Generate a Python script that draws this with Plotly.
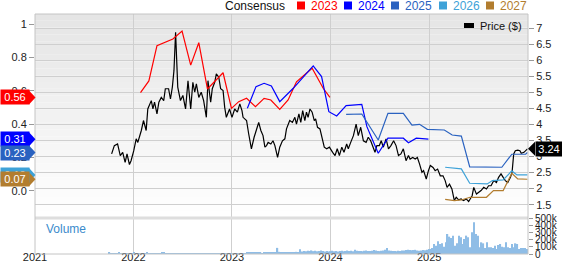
import plotly.graph_objects as go
import pandas as pd

# ---------------- data ----------------
price_dates = ["2021-10-12","2021-10-22","2021-11-03","2021-11-13","2021-11-22","2021-12-01","2021-12-08","2021-12-17","2021-12-23",
 "2022-01-02","2022-01-11","2022-01-17","2022-01-30","2022-02-07","2022-02-17","2022-02-23","2022-03-08","2022-03-14","2022-03-20","2022-03-29",
 "2022-04-05","2022-04-14","2022-04-23","2022-04-29","2022-05-11","2022-05-18","2022-05-25","2022-05-31","2022-06-06","2022-06-14","2022-06-24",
 "2022-07-03","2022-07-13","2022-07-22","2022-08-01","2022-08-09","2022-08-16","2022-08-22","2022-08-31","2022-09-09","2022-09-18","2022-09-28",
 "2022-10-04","2022-10-14","2022-10-20","2022-10-29","2022-11-04","2022-11-13","2022-11-20","2022-11-29","2022-12-05","2022-12-11","2022-12-23",
 "2023-01-01","2023-01-11","2023-01-21","2023-01-30","2023-02-07","2023-02-11","2023-02-24","2023-03-04","2023-03-14","2023-03-24","2023-04-02",
 "2023-04-10","2023-04-18","2023-04-26","2023-05-03","2023-05-09","2023-05-15","2023-05-25","2023-06-02","2023-06-09","2023-06-19","2023-06-27",
 "2023-07-07","2023-07-16","2023-07-22","2023-08-03","2023-08-13","2023-08-22","2023-08-28","2023-09-06","2023-09-13","2023-09-20","2023-09-28",
 "2023-10-04","2023-10-10","2023-10-17","2023-10-25","2023-11-02","2023-11-07","2023-11-14","2023-11-23","2023-12-01","2023-12-09","2023-12-18",
 "2023-12-28","2024-01-09","2024-01-18","2024-01-26","2024-02-03","2024-02-12","2024-02-20","2024-03-01","2024-03-07","2024-03-16","2024-03-26",
 "2024-04-05","2024-04-13","2024-04-22","2024-05-02","2024-05-12","2024-05-20","2024-05-29","2024-06-08","2024-06-14","2024-06-21","2024-06-30",
 "2024-07-07","2024-07-15","2024-07-25","2024-08-03","2024-08-12","2024-08-22","2024-08-31","2024-09-09","2024-09-18","2024-09-27","2024-10-07",
 "2024-10-16","2024-10-22","2024-11-01","2024-11-10","2024-11-18","2024-11-26","2024-12-05","2024-12-11","2024-12-21","2024-12-29",
 "2025-01-05","2025-01-15","2025-01-23","2025-02-01","2025-02-11","2025-02-21","2025-03-01","2025-03-08","2025-03-17","2025-03-26","2025-04-04",
 "2025-04-11","2025-04-20","2025-04-29","2025-05-08","2025-05-18","2025-05-27","2025-06-09","2025-06-15","2025-06-25","2025-07-03","2025-07-12",
 "2025-07-22","2025-08-01","2025-08-09","2025-08-18","2025-08-28","2025-09-07","2025-09-15","2025-09-24","2025-10-02","2025-10-10","2025-10-19",
 "2025-10-29","2025-11-04","2025-11-10","2025-11-16","2025-11-25","2025-12-03","2025-12-08","2025-12-18","2025-12-24","2025-12-31"]
price_values = [3.08,3.34,3.39,3.03,3.13,2.82,3.08,2.75,2.87,
 3.18,3.55,3.44,3.81,4.12,3.81,4.48,4.74,4.48,4.69,4.33,
 4.69,4.84,4.74,5.11,5.11,4.79,5.16,5.68,6.87,5.16,4.74,
 4.90,4.48,5.36,4.48,5.31,5.00,5.26,4.84,5.00,4.74,4.22,
 5.36,4.69,5.11,5.31,5.57,5.47,5.11,5.05,4.53,4.22,4.48,
 4.22,4.48,4.38,4.64,4.43,4.22,4.12,3.70,3.24,3.60,3.86,
 4.06,3.81,3.65,3.29,3.34,3.44,3.39,3.49,3.34,2.97,3.29,
 3.49,3.55,3.86,4.12,4.06,4.22,4.01,4.33,4.06,4.43,4.12,
 4.38,4.22,4.48,4.38,4.12,4.17,3.91,3.86,3.60,3.29,3.24,
 3.29,3.13,3.03,3.24,3.03,3.29,3.13,3.39,3.24,3.44,3.65,
 4.01,3.65,3.91,3.49,3.44,3.60,3.49,3.24,3.13,3.34,3.34,
 3.49,3.29,3.55,3.24,3.34,3.49,3.34,3.03,3.08,3.24,2.87,
 3.03,2.92,2.97,2.92,2.97,2.77,2.51,2.56,2.30,2.56,
 2.72,2.66,2.56,2.61,2.40,2.40,2.25,2.04,2.14,1.99,1.63,
 1.73,1.65,1.68,1.63,1.68,1.60,1.78,2.04,1.83,1.88,1.94,
 2.04,1.99,2.09,2.09,2.25,2.19,2.35,2.46,2.35,2.25,2.19,
 2.35,2.51,3.08,3.18,3.20,3.18,3.10,3.13,3.18,3.24]

eps_2023_dates = ["2022-01-27","2022-02-27","2022-03-29","2022-05-27","2022-06-30","2022-08-01","2022-08-31","2022-10-02","2022-11-29",
 "2022-12-30","2023-01-26","2023-02-24","2023-03-29","2023-04-30","2023-05-25","2023-06-27","2023-07-28","2023-08-28","2023-10-25","2023-12-05","2023-12-30"]
eps_2023_values = [0.589,0.659,0.870,0.910,0.958,0.754,0.888,0.611,0.708,0.495,0.535,0.555,0.505,0.555,0.545,0.489,0.545,0.654,0.735,0.615,0.56]

eps_2024_dates = ["2023-02-27","2023-03-31","2023-04-30","2023-05-27","2023-06-27","2023-08-16","2023-10-29","2023-11-29","2023-12-26",
 "2024-01-24","2024-02-28","2024-04-26","2024-05-15","2024-06-26","2024-08-01","2024-09-27","2024-10-16","2024-11-14","2024-12-29"]
eps_2024_values = [0.495,0.625,0.645,0.629,0.535,0.615,0.749,0.685,0.475,0.449,0.511,0.519,0.385,0.226,0.316,0.316,0.289,0.316,0.31]

eps_2025_dates = ["2024-02-28","2024-04-26","2024-06-26","2024-08-01","2024-09-27","2024-10-29","2024-11-26","2024-12-25",
 "2025-02-26","2025-03-27","2025-04-30","2025-05-31","2025-09-27","2025-11-03","2025-12-24","2025-12-31"]
eps_2025_values = [0.459,0.461,0.305,0.465,0.465,0.395,0.399,0.369,0.365,0.335,0.329,0.144,0.142,0.220,0.220,0.23]

eps_2026_dates = ["2025-03-01","2025-04-30","2025-05-31","2025-08-04","2025-08-23","2025-10-02","2025-11-03","2025-11-22","2025-12-31"]
eps_2026_values = [0.142,0.132,0.046,0.042,0.062,0.066,0.120,0.096,0.096]

eps_2027_dates = ["2025-03-01","2025-04-04","2025-04-30","2025-06-01","2025-08-01","2025-08-27","2025-10-02","2025-11-03","2025-11-25","2025-12-31"]
eps_2027_values = [-0.050,-0.058,-0.054,-0.038,-0.038,0.002,0.002,0.106,0.072,0.07]

# weekly volume, first block starts 2021-10-04
vol_early_start = "2021-10-04"
vol_early = [14000,9000,12000,8000,11000,15000,10000,9000,13000,8000,12000,10000,9000,14000,11000,8000,10000,12000,9000,13000,
 16000,11000,9000,10000,8000,12000,11000,9000,15000,18000,10000,9000,12000,8000,11000,10000,9000,12000,8000,10000,
 11000,7000,9000,10000,8000,9000,12000,7000,8000,9000,6000,8000,5000,6000,4000,5000,4000,3000,5000,4000,3000,4000,3000,2000,3000]
# weekly volume, second block starts 2023-01-02
vol_late_start = "2023-01-02"
vol_late = [2000,2000,3000,2000,2000,3000,2000,3000,
 15000,18000,14000,16000,15000, 14000,17000,15000,13000, 16000,14000,18000,15000,17000,
 20000,16000,85000,30000, 22000,25000,20000,24000,28000, 22000,26000,24000,30000,
 28000,65000,35000,40000, 38000,45000,42000,50000,40000, 45000,38000,42000,48000, 40000,36000,42000,35000,
 40000,45000,38000,42000, 36000,40000,45000,38000, 42000,48000,40000,45000,38000, 60000,45000,42000,40000,
 38000,45000,50000,42000,40000, 45000,55000,48000,42000, 40000,45000,50000,60000,85000, 50000,45000,40000,42000,
 38000,45000,40000,48000, 50000,55000,60000,55000,52000, 55000,58000,50000,45000, 48000,55000,52000,60000,70000,
 70000,83000,139000,116000,176000,139000,148000,102000,162000,278000,241000,222000,255000,116000,148000,255000,
 232000,139000,208000,255000,232000,93000,301000,440000,278000,255000,93000,162000,148000,83000,162000,93000,
 93000,83000,116000,70000,125000,139000,102000,93000,162000,93000,83000,139000,93000,148000,139000,70000,
 83000,83000,83000,70000]

year_ticks = ["2021-01-01","2022-01-01","2023-01-01","2024-01-01","2025-01-01"]
year_labels = ["2021","2022","2023","2024","2025"]
price_ticks = [1.5,2,2.5,3,3.5,4,4.5,5,5.5,6,6.5,7]
eps_ticks = [0,0.2,0.4,0.6,0.8,1]
vol_ticks = [0,100000,200000,300000,400000,500000]
vol_labels = ["0","100k","200k","300k","400k","500k"]

series = [("2023", eps_2023_dates, eps_2023_values, "#ff0000"),
          ("2024", eps_2024_dates, eps_2024_values, "#0000ff"),
          ("2025", eps_2025_dates, eps_2025_values, "#2a62c0"),
          ("2026", eps_2026_dates, eps_2026_values, "#3ea2d8"),
          ("2027", eps_2027_dates, eps_2027_values, "#b27d2f")]

# ---------------- figure ----------------
W, H = 562, 264
ML, MR, MT, MB = 35, 34, 14, 10
PW, PH = W - ML - MR, H - MT - MB
def px_x(px):
    return (px - ML) / PW
def px_y(py):
    return (H - MB - py) / PH

FONT = "Liberation Sans, Arial, sans-serif"
fig = go.Figure()

vol_dates = list(pd.date_range(vol_early_start, periods=len(vol_early), freq="7D")) + \
            list(pd.date_range(vol_late_start, periods=len(vol_late), freq="7D"))
fig.add_trace(go.Bar(x=vol_dates, y=vol_early + vol_late, xaxis="x", yaxis="y3",
                     marker=dict(color="#8fbde6", line=dict(width=0)), showlegend=False))

fig.add_trace(go.Scatter(x=price_dates, y=price_values, xaxis="x2", yaxis="y", mode="lines",
                         line=dict(color="#000000", width=1.2), showlegend=False))
for name, d, v, c in series:
    fig.add_trace(go.Scatter(x=d, y=v, xaxis="x2", yaxis="y2", mode="lines",
                             line=dict(color=c, width=1.2), showlegend=False))

xr = ["2021-01-01", "2026-01-02"]
grid = "#cfcfcf"
tickfont = dict(family=FONT, size=11, color="#222")
fig.update_layout(
    width=W, height=H, margin=dict(l=ML, r=MR, t=MT, b=MB),
    paper_bgcolor="white", plot_bgcolor="rgba(0,0,0,0)",
    bargap=0.35, showlegend=False,
    xaxis=dict(domain=[0, 1], anchor="y3", type="date", range=xr, tickvals=year_ticks, ticktext=year_labels,
               showgrid=True, gridcolor=grid, gridwidth=1, ticks="", tickfont=tickfont, zeroline=False,
               showline=False, automargin=False, ticklabelstandoff=-5),
    xaxis2=dict(domain=[0, 1], anchor="y", type="date", matches="x", range=xr, tickvals=year_ticks,
                showticklabels=False, showgrid=True, gridcolor=grid, gridwidth=1, ticks="", zeroline=False,
                automargin=False),
    yaxis=dict(domain=[0.15, 1], anchor="x2", side="right", range=[1.086, 7.436], tickvals=price_ticks,
               ticktext=[("%g" % t) for t in price_ticks], showgrid=True, gridcolor=grid, gridwidth=1,
               ticks="outside", ticklen=5, tickcolor="#999", tickfont=tickfont, zeroline=False, automargin=False),
    yaxis2=dict(overlaying="y", anchor="x2", side="left", range=[-0.162, 1.06], tickvals=eps_ticks,
                ticktext=["0.0", "0.2", "0.4", "0.6", "0.8", "1"], showgrid=False, ticks="outside", ticklen=5,
                tickcolor="#999", tickfont=tickfont, zeroline=False, automargin=False),
    yaxis3=dict(domain=[0, 0.15], anchor="x", side="right", range=[0, 500000], tickvals=vol_ticks,
                ticktext=vol_labels, showgrid=False, ticks="outside", ticklen=4, tickcolor="#999",
                tickfont=dict(family=FONT, size=10, color="#222"), zeroline=False, automargin=False),
)

shapes = []
# background gradient in price panel
N = 30
y0p, y1p = 0.15, 1.0
for i in range(N):
    t = i / (N - 1)
    g = int(round(229 + (255 - 229) * t))
    shapes.append(dict(type="rect", xref="paper", yref="paper", x0=0, x1=1,
                       y0=y1p - (i + 1) * (y1p - y0p) / N, y1=y1p - i * (y1p - y0p) / N,
                       fillcolor="rgb(%d,%d,%d)" % (g, g, g), line=dict(width=0), layer="below"))
# separator and border
shapes.append(dict(type="line", xref="paper", yref="paper", x0=0, x1=1, y0=0.15, y1=0.15,
                   line=dict(color="#dedede", width=3), layer="above"))
shapes.append(dict(type="rect", xref="paper", yref="paper", x0=0, x1=1, y0=0, y1=1,
                   line=dict(color="#c4c4c4", width=1), layer="above"))

annotations = []
# top legend
annotations.append(dict(text="Consensus", xref="paper", yref="paper", x=px_x(223), y=px_y(5.5),
                        xanchor="left", yanchor="middle", showarrow=False,
                        font=dict(family=FONT, size=12, color="#111")))
leg_sq = [297, 344, 391, 439, 486]
for (name, d, v, c), sx in zip(series, leg_sq):
    shapes.append(dict(type="rect", xref="paper", yref="paper", x0=px_x(sx), x1=px_x(sx + 8),
                       y0=px_y(9.5), y1=px_y(1.5), fillcolor=c, line=dict(width=0), layer="above"))
    annotations.append(dict(text=name, xref="paper", yref="paper", x=px_x(sx + 12), y=px_y(5.5),
                            xanchor="left", yanchor="middle", showarrow=False,
                            font=dict(family=FONT, size=12, color=c)))
# price legend
shapes.append(dict(type="rect", xref="paper", yref="paper", x0=px_x(464), x1=px_x(474),
                   y0=px_y(28), y1=px_y(23), fillcolor="#000", line=dict(width=0), layer="above"))
annotations.append(dict(text="Price ($)", xref="paper", yref="paper", x=px_x(478), y=px_y(25.5),
                        xanchor="left", yanchor="middle", showarrow=False,
                        font=dict(family=FONT, size=11, color="#111")))
# volume label
annotations.append(dict(text="Volume", xref="paper", yref="paper", x=px_x(44), y=px_y(229),
                        xanchor="left", yanchor="middle", showarrow=False,
                        font=dict(family=FONT, size=12, color="#3b8bcc")))

# left value tags (last consensus value of each series)
eps_range = 1.06 - (-0.162)
half = 7.0 / PH * eps_range / 0.85
for name, d, v, c in series:
    val = v[-1]
    shapes.append(dict(type="path", xref="paper", yref="y2",
                       path="M %f,%f L %f,%f L %f,%f Z" % (px_x(29), val + half, px_x(35.5), val, px_x(29), val - half),
                       fillcolor=c, line=dict(width=0), layer="above"))
    annotations.append(dict(text="%.2f" % val, xref="paper", yref="y2", x=px_x(29.5), y=val,
                            xanchor="right", yanchor="middle", showarrow=False, bgcolor=c,
                            width=26, height=12, borderpad=1, align="center",
                            font=dict(family=FONT, size=11, color="white")))
# right price tag
last_price = price_values[-1]
p_range = 7.436 - 1.086
phalf = 7.0 / PH * p_range / 0.85
shapes.append(dict(type="path", xref="paper", yref="y",
                   path="M %f,%f L %f,%f L %f,%f Z" % (px_x(535), last_price + phalf, px_x(528), last_price, px_x(535), last_price - phalf),
                   fillcolor="#000", line=dict(width=0), layer="above"))
annotations.append(dict(text="%.2f" % last_price, xref="paper", yref="y", x=px_x(534.5), y=last_price,
                        xanchor="left", yanchor="middle", showarrow=False, bgcolor="#000",
                        width=24, height=12, borderpad=1, align="center",
                        font=dict(family=FONT, size=11, color="white")))

fig.update_layout(shapes=shapes, annotations=annotations)
fig.write_html("out.html")
